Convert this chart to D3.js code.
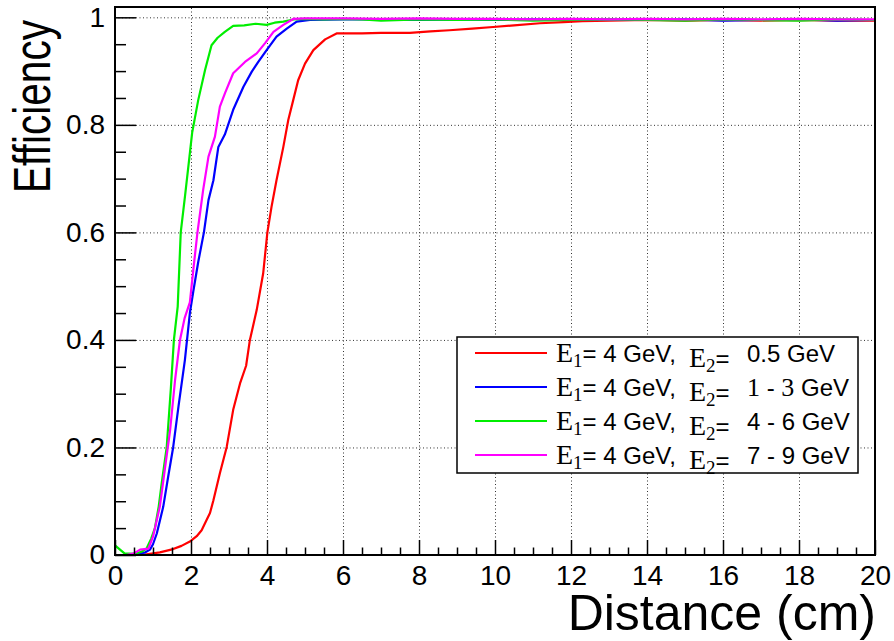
<!DOCTYPE html>
<html>
<head>
<meta charset="utf-8">
<script src="https://cdn.jsdelivr.net/npm/d3@7/dist/d3.min.js"></script>
<style>
  html, body { margin: 0; padding: 0; background: #fff; }
  svg { display: block; }
</style>
</head>
<body>
<script>
// ---------- data (distance in cm, efficiency) ----------
const xMajorTicks = [0, 2, 4, 6, 8, 10, 12, 14, 16, 18, 20];
const yMajorTicks = [0, 0.2, 0.4, 0.6, 0.8, 1];
const xTitle = "Distance (cm)";
const yTitle = "Efficiency";
const e1Label = "4 GeV,";
const e2Labels = ["0.5 GeV", "1 - 3 GeV", "4 - 6 GeV", "7 - 9 GeV"];

const redData = [
  [0,0.0],[0.7,0.0],[1.18,0.005],[1.53,0.011],[1.75,0.017],[1.97,0.025],[2.15,0.035],
  [2.28,0.046],[2.41,0.065],[2.5,0.078],[2.59,0.102],[2.76,0.152],[2.94,0.201],
  [3.11,0.27],[3.29,0.319],[3.45,0.352],[3.55,0.4],[3.73,0.456],[3.9,0.524],
  [4.01,0.6],[4.12,0.648],[4.25,0.697],[4.43,0.759],[4.56,0.809],[4.69,0.846],
  [4.82,0.883],[5.0,0.914],[5.22,0.939],[5.53,0.959],[5.83,0.970],[6.5,0.970],
  [7.0,0.971],[7.76,0.971],[8.3,0.974],[8.8,0.976],[9.4,0.979],[9.95,0.982],
  [10.5,0.985],[11.18,0.989],[11.8,0.991],[12.3,0.993],[13,0.994],[14,0.995],
  [15,0.994],[16,0.995],[17,0.994],[18,0.995],[19,0.994],[20,0.994]
];
const blueData = [
  [0,0.0],[0.3,0.0],[0.6,0.002],[0.8,0.005],[0.92,0.01],[1.0,0.02],[1.1,0.04],
  [1.27,0.09],[1.40,0.146],[1.53,0.2],[1.67,0.276],[1.84,0.363],[1.97,0.45],
  [2.06,0.49],[2.19,0.545],[2.34,0.6],[2.46,0.66],[2.59,0.697],[2.72,0.759],
  [2.89,0.782],[3.11,0.828],[3.38,0.871],[3.6,0.899],[3.77,0.917],[3.99,0.939],
  [4.25,0.964],[4.52,0.979],[4.78,0.992],[5.13,0.995],[6,0.996],[7,0.996],
  [8,0.995],[9,0.996],[10,0.995],[11,0.996],[12,0.995],[13,0.996],[14,0.995],
  [15,0.996],[16,0.994],[17,0.995],[18,0.996],[19,0.994],[20,0.995]
];
const greenData = [
  [0,0.018],[0.1,0.012],[0.25,0.003],[0.5,0.002],[0.7,0.006],[0.83,0.012],
  [0.95,0.03],[1.05,0.05],[1.15,0.09],[1.23,0.134],[1.36,0.2],[1.47,0.31],
  [1.55,0.40],[1.65,0.462],[1.73,0.6],[1.84,0.666],[1.96,0.741],[2.03,0.785],
  [2.19,0.846],[2.37,0.902],[2.54,0.948],[2.7,0.962],[2.89,0.973],[3.11,0.984],
  [3.4,0.985],[3.7,0.988],[3.99,0.986],[4.2,0.99],[4.43,0.992],[4.7,0.996],
  [5,0.997],[5.5,0.996],[6,0.997],[6.5,0.996],[7,0.994],[8,0.996],[9,0.995],
  [10,0.996],[11,0.994],[12,0.995],[13,0.996],[14,0.995],[15,0.994],[16,0.996],
  [17,0.995],[18,0.994],[19,0.996],[20,0.995]
];
const magentaData = [
  [0,0.0],[0.3,0.0],[0.5,0.003],[0.66,0.01],[0.88,0.012],[1.0,0.034],[1.18,0.09],
  [1.32,0.164],[1.45,0.232],[1.58,0.325],[1.71,0.40],[1.83,0.44],[1.97,0.47],
  [2.06,0.53],[2.17,0.6],[2.32,0.679],[2.46,0.741],[2.63,0.778],[2.76,0.834],
  [2.9,0.86],[3.11,0.896],[3.42,0.917],[3.73,0.933],[3.95,0.952],[4.17,0.973],
  [4.43,0.986],[4.69,0.997],[5,0.998],[6,0.998],[7,0.997],[8,0.998],[9,0.997],
  [10,0.997],[11,0.996],[12,0.997],[13,0.996],[14,0.997],[15,0.996],[16,0.997],
  [17,0.996],[18,0.997],[19,0.996],[20,0.996]
];

const series = [
  { data: redData,     color: "#ff0000", e2: e2Labels[0] },
  { data: blueData,    color: "#0000ff", e2: e2Labels[1] },
  { data: greenData,   color: "#00ee00", e2: e2Labels[2] },
  { data: magentaData, color: "#ff00ff", e2: e2Labels[3] }
];

// ---------- layout ----------
const W = 894, H = 641;
const L = 115, R = 875, T = 7, B = 555;
const SANS = "'Liberation Sans', Arial, Helvetica, sans-serif";
const SERIF = "'Liberation Serif', 'Times New Roman', serif";

const svg = d3.select("body").append("svg").attr("width", W).attr("height", H);
svg.append("rect").attr("width", W).attr("height", H).attr("fill", "#fff");

const x = d3.scaleLinear().domain([0, 20]).range([L, R]);
const y = d3.scaleLinear().domain([0, 1.0192]).range([B, T]);

const xMinor = d3.range(0, 20.001, 0.5).filter(v => Math.abs(v / 2 - Math.round(v / 2)) > 1e-6);
const yMinor = d3.range(0, 1.0001, 0.05).filter(v => Math.abs(v / 0.2 - Math.round(v / 0.2)) > 1e-6);

// grid
const gridX = svg.append("g").attr("transform", `translate(0,${B})`)
  .call(d3.axisBottom(x).tickValues(xMajorTicks.filter(v => v > 0 && v < 20)).tickSize(-(B - T)).tickFormat(""));
const gridY = svg.append("g").attr("transform", `translate(${L},0)`)
  .call(d3.axisLeft(y).tickValues(yMajorTicks.filter(v => v > 0)).tickSize(-(R - L)).tickFormat(""));
[gridX, gridY].forEach(g => {
  g.select(".domain").remove();
  g.selectAll("text").remove();
  g.selectAll("line").attr("stroke", "#333").attr("stroke-width", 1).attr("stroke-dasharray", "1,2.5");
});

// curves
svg.append("clipPath").attr("id", "clip").append("rect")
  .attr("x", L).attr("y", T).attr("width", R - L).attr("height", B - T);
const line = d3.line().x(d => x(d[0])).y(d => y(d[1]));
svg.append("g").attr("clip-path", "url(#clip)")
  .selectAll("path").data(series).join("path")
  .attr("d", d => line(d.data))
  .attr("fill", "none").attr("stroke", d => d.color).attr("stroke-width", 2.2)
  .attr("stroke-linejoin", "round");

// axes (ticks inward)
const fmtY = d => d === 0 ? "0" : d === 1 ? "1" : d.toFixed(1);
const xAxis = svg.append("g").attr("transform", `translate(0,${B})`)
  .call(d3.axisBottom(x).tickValues(xMajorTicks).tickSize(-15).tickSizeOuter(0).tickPadding(10).tickFormat(d3.format("d")));
const xAxisMinor = svg.append("g").attr("transform", `translate(0,${B})`)
  .call(d3.axisBottom(x).tickValues(xMinor).tickSize(-7.5).tickSizeOuter(0).tickFormat(""));
const yAxis = svg.append("g").attr("transform", `translate(${L},0)`)
  .call(d3.axisLeft(y).tickValues(yMajorTicks).tickSize(-21).tickSizeOuter(0).tickPadding(10).tickFormat(fmtY));
const yAxisMinor = svg.append("g").attr("transform", `translate(${L},0)`)
  .call(d3.axisLeft(y).tickValues(yMinor).tickSize(-11).tickSizeOuter(0).tickFormat(""));
[xAxisMinor, yAxisMinor].forEach(g => g.selectAll("text").remove());
[xAxis, xAxisMinor, yAxis, yAxisMinor].forEach(g => {
  g.select(".domain").remove();
  g.selectAll("line").attr("stroke", "#000").attr("stroke-width", 1.5);
  g.selectAll("text").attr("font-family", SANS).attr("font-size", 28).attr("fill", "#000");
});

// frame
svg.append("rect").attr("x", L).attr("y", T).attr("width", R - L).attr("height", B - T)
  .attr("fill", "none").attr("stroke", "#000").attr("stroke-width", 2);

// axis titles
svg.append("text").attr("x", R + 1).attr("y", 630).attr("text-anchor", "end")
  .attr("font-family", SANS).attr("font-size", 50).text(xTitle);
svg.append("text").attr("transform", "translate(50,20) rotate(-90)").attr("text-anchor", "end")
  .attr("font-family", SANS).attr("font-size", 52)
  .attr("textLength", 173).attr("lengthAdjust", "spacingAndGlyphs").text(yTitle);

// legend
const lg = svg.append("g");
lg.append("rect").attr("x", 457).attr("y", 337).attr("width", 401).attr("height", 136)
  .attr("fill", "#fff").attr("stroke", "#000").attr("stroke-width", 1.5);
series.forEach((s, i) => {
  const cy = 353 + i * 34;
  const base = cy + 8.5;
  lg.append("line").attr("x1", 475).attr("x2", 547).attr("y1", cy).attr("y2", cy)
    .attr("stroke", s.color).attr("stroke-width", 2.2);
  const t1 = lg.append("text").attr("x", 556).attr("y", base);
  t1.append("tspan").attr("font-family", SERIF).attr("font-size", 28).text("E");
  t1.append("tspan").attr("font-family", SERIF).attr("font-size", 19).attr("dy", 5).text("1");
  t1.append("tspan").attr("font-family", SANS).attr("font-size", 24).attr("dy", -5).text("= " + e1Label);
  const t2 = lg.append("text").attr("x", 689).attr("y", base + 5);
  t2.append("tspan").attr("font-family", SERIF).attr("font-size", 28).text("E");
  t2.append("tspan").attr("font-family", SERIF).attr("font-size", 19).attr("dy", 5).text("2");
  t2.append("tspan").attr("font-family", SANS).attr("font-size", 24).attr("dy", -5).text("=");
  const t3 = lg.append("text").attr("x", 747).attr("y", base).attr("font-size", 24);
  if (i === 1) {
    // ROOT rendered the digits of this label with a serif face
    const parts = s.e2.split(/(\d)/).filter(p => p.length);
    parts.forEach(p => {
      t3.append("tspan").attr("font-family", /\d/.test(p) ? SERIF : SANS)
        .attr("font-size", /\d/.test(p) ? 26 : 24).attr("xml:space", "preserve").text(p);
    });
  } else {
    t3.attr("font-family", SANS).text(s.e2);
  }
});
</script>
</body>
</html>
